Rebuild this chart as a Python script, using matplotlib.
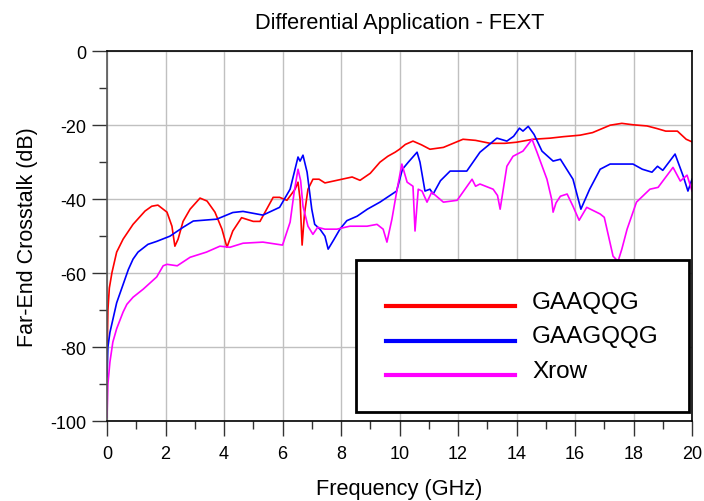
import matplotlib
matplotlib.use("Agg")
import numpy as np
import matplotlib.pyplot as plt
from matplotlib.ticker import MultipleLocator
from matplotlib.legend_handler import HandlerLine2D

# Font setting
plt.rcParams['font.family'] = ['Liberation Sans', 'DejaVu Sans']
plt.rcParams['axes.unicode_minus'] = False

# GAAQQG (red)
freqRed = [0, 0.03, 0.08, 0.17, 0.33, 0.55, 0.89, 1.3, 1.53, 1.74, 2.05, 2.22, 2.32, 2.43,
           2.6, 2.84, 3.18, 3.42, 3.69, 3.93, 4.1, 4.3, 4.6, 5.0, 5.23, 5.68, 5.9, 6.15,
           6.43, 6.53, 6.6, 6.67, 6.75, 6.87, 7.04, 7.25, 7.45, 7.8, 8.38, 8.65, 9.0, 9.33,
           9.6, 9.85, 10.0, 10.2, 10.46, 10.75, 11.04, 11.5, 12.17, 12.6, 13.1, 13.6, 14.0,
           14.57, 15.15, 15.6, 16.17, 16.6, 17.2, 17.6, 18.0, 18.46, 18.8, 19.1, 19.5,
           19.8, 20.0]
dbRed = [-83, -70, -64, -59.8, -54.3, -50.8, -46.8, -43.2, -41.9, -41.6, -43.5, -47.3, -52.7,
         -50.8, -46, -42.7, -39.7, -40.5, -43.5, -48.1, -53, -48.6, -45, -46, -46, -39.5,
         -39.5, -40.3, -37.3, -35.4, -40, -52.4, -44, -37.3, -34.6, -34.6, -35.6, -35, -34,
         -34.9, -33, -30, -28.4, -27.3, -26.5, -25.2, -24.3, -25.3, -26.5, -26, -23.8, -24.1,
         -24.9, -24.9, -24.6, -23.8, -23.5, -23.1, -22.7, -22, -20, -19.5, -19.9, -20.2,
         -20.9, -21.6, -21.6, -23.8, -24.5]

# GAAGQQG (blue)
freqBlue = [0, 0.03, 0.1, 0.33, 0.73, 0.89, 1.06, 1.4, 1.7, 2.15, 2.6, 2.95, 3.75, 4.3,
            4.65, 5.33, 5.9, 6.26, 6.53, 6.6, 6.7, 6.84, 7.0, 7.1, 7.28, 7.45, 7.56, 7.75,
            7.97, 8.2, 8.55, 8.9, 9.33, 9.9, 10.1, 10.3, 10.6, 10.7, 10.87, 11.04, 11.15,
            11.4, 11.73, 12.3, 12.75, 13.33, 13.67, 13.9, 14.1, 14.22, 14.4, 14.6, 14.87,
            15.25, 15.5, 15.93, 16.2, 16.5, 16.86, 17.2, 17.98, 18.3, 18.63, 18.82, 19.0,
            19.42, 19.7, 19.86, 20.0]
dbBlue = [-88, -80, -76, -68, -59, -56.2, -54.3, -52.2, -51.4, -50, -47.6, -45.9, -45.4,
          -43.6, -43.3, -44.3, -42.2, -37.3, -28.6, -29.7, -28.1, -32.7, -42.7, -46.8,
          -48.1, -50, -53.5, -51, -48, -45.8, -44.6, -42.7, -40.8, -37.8, -31.9, -30, -27.3,
          -30, -37.8, -37.3, -38.6, -35, -32.4, -32.4, -27.3, -23.5, -24.3, -23, -20.8,
          -21.6, -20.3, -22.5, -27, -29.7, -29.2, -34.6, -42.7, -37.3, -31.9, -30.5, -30.5,
          -31.9, -32.7, -31.1, -32.2, -27.8, -33.8, -37.8, -34.6]

# Xrow (magenta)
freqMag = [0, 0.03, 0.1, 0.2, 0.33, 0.55, 0.68, 0.89, 1.24, 1.7, 1.92, 2.05, 2.4, 2.84,
           3.4, 3.86, 4.2, 4.65, 5.33, 6.0, 6.26, 6.4, 6.53, 6.62, 6.7, 6.87, 7.04, 7.2,
           7.45, 7.86, 8.3, 8.89, 9.23, 9.44, 9.57, 9.74, 9.9, 10.08, 10.26, 10.46, 10.53,
           10.64, 10.77, 10.94, 11.1, 11.5, 11.97, 12.48, 12.6, 12.75, 13.2, 13.35, 13.44,
           13.67, 13.88, 14.22, 14.53, 14.7, 15.04, 15.2, 15.25, 15.35, 15.5, 15.73, 15.93,
           16.14, 16.4, 16.86, 17.0, 17.3, 17.47, 17.6, 17.78, 18.1, 18.56, 18.84, 19.35,
           19.6, 19.83, 20.0]
dbMag = [-99, -90, -84, -78.6, -75, -70.5, -68.4, -66.5, -64.3, -61, -58, -57.6, -58,
         -55.7, -54.3, -52.7, -53, -51.9, -51.6, -52.4, -46.2, -38, -31.9, -35, -41.9,
         -47.3, -49.5, -47.6, -48.1, -48.1, -47.3, -47.3, -46.8, -48.1, -51.6, -45.4,
         -38.1, -30.5, -35.4, -36.5, -48.6, -37.3, -37.8, -40.8, -38.1, -40.8, -40.3,
         -34.6, -36.5, -35.9, -37.3, -39, -42.7, -31.1, -28.4, -27, -23.8, -27.3, -34.6,
         -40, -43.5, -41, -39.2, -38.6, -41.9, -45.7, -42.2, -44, -44.9, -55.4, -56.8,
         -53.5, -48.1, -40.8, -37.3, -36.8, -31.4, -35.1, -33.5, -37.8]

labels = ["GAAQQG", "GAAGQQG", "Xrow"]
colors = ["#ff0000", "#0000ff", "#ff00ff"]


# Legend line drawn a bit below the text centre
class LowLine(HandlerLine2D):
    def create_artists(self, legend, orig_handle, xdescent, ydescent, width, height,
                       fontsize, trans):
        arts = super().create_artists(legend, orig_handle, xdescent, ydescent,
                                      width, height, fontsize, trans)
        for a in arts:
            a.set_ydata(np.asarray(a.get_ydata()) - 0.29 * fontsize)
        return arts


# Figure and axes
fig = plt.figure(figsize=(7.04, 5.02), dpi=100)
ax = fig.add_axes([0.152, 0.159, 0.831, 0.737])

# Draw curves
series = [(freqRed, dbRed), (freqBlue, dbBlue), (freqMag, dbMag)]
lines = []
for (f, d), lab, col in zip(series, labels, colors):
    ln, = ax.plot(f, d, color=col, linewidth=1.2, label=lab)
    lines.append(ln)

# Range and ticks
ax.set_xlim(0, 20)
ax.set_ylim(-100, 0)
ax.xaxis.set_major_locator(MultipleLocator(2))
ax.xaxis.set_minor_locator(MultipleLocator(1))
ax.yaxis.set_major_locator(MultipleLocator(20))
ax.yaxis.set_minor_locator(MultipleLocator(10))
ax.tick_params(which='major', direction='out', length=11, width=1, labelsize=13,
               color='#333333')
ax.tick_params(axis='x', which='major', pad=6)
ax.tick_params(axis='y', which='major', pad=4)
ax.tick_params(which='minor', direction='out', length=5.8, width=1, color='#333333')
ax.grid(True, which='major', color='#c0c0c0', linewidth=1)
ax.set_axisbelow(True)

# Spines
ax.spines['left'].set_color('#555555')
for s in ['top', 'right', 'bottom']:
    ax.spines[s].set_color('black')
for s in ax.spines.values():
    s.set_linewidth(1.2)

# Labels
ax.set_title("Differential Application - FEXT", fontsize=15.7, pad=17)
ax.set_xlabel("Frequency (GHz)", fontsize=15.7, labelpad=12)
ax.set_ylabel("Far-End Crosstalk (dB)", fontsize=15.5, labelpad=9)

# Legend
leg = ax.legend(handles=lines, loc='lower right', bbox_to_anchor=(0.995, 0.024),
                fontsize=17.5, frameon=True, fancybox=False, edgecolor='black',
                handlelength=5.3, handletextpad=0.7, labelspacing=0.52,
                borderpad=1.25, borderaxespad=0,
                handler_map={l: LowLine() for l in lines})
leg.get_frame().set_linewidth(2)
leg.get_frame().set_alpha(1)
for l in leg.get_lines():
    l.set_linewidth(3)

fig.savefig("out.png", dpi=100)
